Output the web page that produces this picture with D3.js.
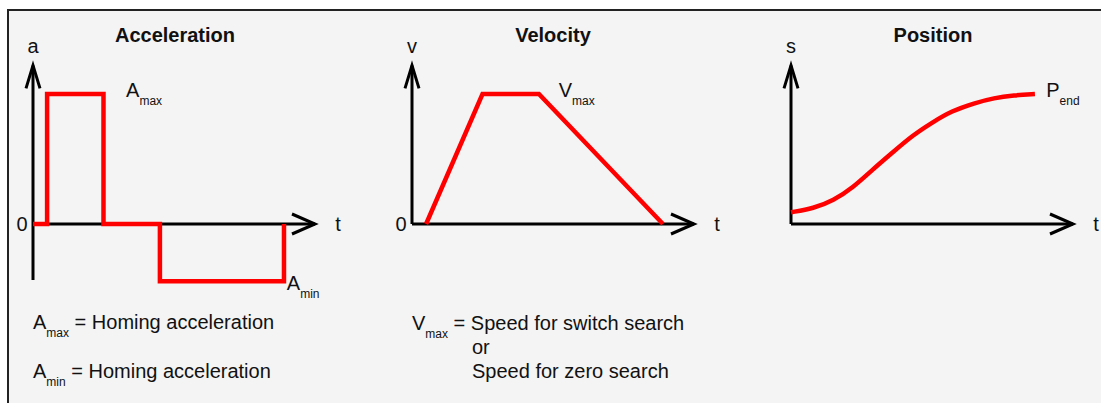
<!DOCTYPE html>
<html>
<head>
<meta charset="utf-8">
<script src="https://cdnjs.cloudflare.com/ajax/libs/d3/7.8.5/d3.min.js"></script>
<style>
  body { margin: 0; background: #fff; }
  svg text { font-family: "Liberation Sans", Arial, sans-serif; fill: #111; }
  .title { font-weight: bold; font-size: 20px; }
  .lbl { font-size: 20px; }
  .sub { font-size: 12px; }
</style>
</head>
<body>
<svg id="chart" width="1101" height="403"></svg>
<script>
// step changes of the acceleration profile (time units 0..10)
var accelT = [0, 0.5, 2.5, 4.5, 8.9];
var accelA = [0, 1, 0, -0.44, 0];

// velocity trapezoid
var velT = [0.5, 2.5, 4.5, 8.9];
var velV = [0, 1, 1, 0];

// position s-curve
var posT = [0, 0.8, 1.5, 2.2, 2.9, 3.6, 4.3, 5.0, 5.7, 6.5, 7.2, 7.9, 8.65];
var posS = [0.09, 0.12, 0.18, 0.28, 0.42, 0.55, 0.68, 0.78, 0.87, 0.93, 0.97, 0.99, 1.0];

var panels = [
  { title: "Acceleration", yName: "a", x0: 33, cx: 175, zero: true, yMin: -0.43 },
  { title: "Velocity", yName: "v", x0: 412, cx: 553, zero: true, yMin: 0 },
  { title: "Position", yName: "s", x0: 791, cx: 933, zero: false, yMin: 0 }
];

var svg = d3.select("#chart");

// frame
svg.append("rect").attr("x", 8).attr("y", 10).attr("width", 1093).attr("height", 393)
  .attr("fill", "#f4f4f4");
svg.append("path").attr("d", "M8,403V10H1101")
  .attr("fill", "none").attr("stroke", "#222").attr("stroke-width", 2);

var line = d3.line();

panels.forEach(function (p, i) {
  p.x = d3.scaleLinear().domain([0, 10]).range([p.x0, p.x0 + 282]);
  p.y = d3.scaleLinear().domain([0, 1]).range([224, 94]);
  var g = svg.append("g");
  var x = p.x, y = p.y;

  // axes
  g.append("path")
    .attr("d", line([[x(0), y(p.yMin)], [x(0), y(1.22)]]) + line([[x(0), y(0)], [x(10), y(0)]]))
    .attr("fill", "none").attr("stroke", "#000").attr("stroke-width", 3);
  // arrow heads
  g.append("path")
    .attr("d", line([[x(0) - 7, y(1.22) + 23], [x(0), y(1.22)], [x(0) + 7, y(1.22) + 23]]) +
      line([[x(10) - 23, y(0) - 10], [x(10), y(0)], [x(10) - 23, y(0) + 10]]))
    .attr("fill", "none").attr("stroke", "#000").attr("stroke-width", 3);

  g.append("text").attr("class", "title").attr("x", p.cx).attr("y", 42)
    .attr("text-anchor", "middle").text(p.title);
  g.append("text").attr("class", "lbl").attr("x", x(0)).attr("y", 53)
    .attr("text-anchor", "middle").text(p.yName);
  g.append("text").attr("class", "lbl").attr("x", x(10) + 23).attr("y", 231)
    .attr("text-anchor", "middle").text("t");
  if (p.zero) {
    g.append("text").attr("class", "lbl").attr("x", x(0) - 11).attr("y", 231)
      .attr("text-anchor", "middle").text("0");
  }
});

function subLabel(g, x, y, main, sub, rest) {
  var t = g.append("text").attr("class", "lbl").attr("x", x).attr("y", y);
  t.append("tspan").text(main);
  t.append("tspan").attr("class", "sub").attr("dy", 8).text(sub);
  if (rest) t.append("tspan").attr("dy", -8).text(" " + rest);
  return t;
}

var red = "#f00";

// acceleration
var pa = panels[0];
svg.append("path")
  .attr("d", d3.line().x(function (d) { return pa.x(d[0]); }).y(function (d) { return pa.y(d[1]); })
    .curve(d3.curveStepAfter)(accelT.map(function (t, i) { return [t, accelA[i]]; })))
  .attr("fill", "none").attr("stroke", red).attr("stroke-width", 4.5);
subLabel(svg, pa.x(3.3), 97, "A", "max");
subLabel(svg, pa.x(9.0), 290, "A", "min");

// velocity
var pv = panels[1];
svg.append("path")
  .attr("d", d3.line().x(function (d) { return pv.x(d[0]); }).y(function (d) { return pv.y(d[1]); })
    (velT.map(function (t, i) { return [t, velV[i]]; })))
  .attr("fill", "none").attr("stroke", red).attr("stroke-width", 4.5);
subLabel(svg, pv.x(5.2), 97, "V", "max");

// position
var pp = panels[2];
svg.append("path")
  .attr("d", d3.line().x(function (d) { return pp.x(d[0]); }).y(function (d) { return pp.y(d[1]); })
    .curve(d3.curveBasis)(posT.map(function (t, i) { return [t, posS[i]]; })))
  .attr("fill", "none").attr("stroke", red).attr("stroke-width", 4.5);
subLabel(svg, pp.x(9.05), 97, "P", "end");

// notes
subLabel(svg, 33, 329, "A", "max", "= Homing acceleration");
subLabel(svg, 33, 378, "A", "min", "= Homing acceleration");
subLabel(svg, 412, 330, "V", "max", "= Speed for switch search");
svg.append("text").attr("class", "lbl").attr("x", 472).attr("y", 354).text("or");
svg.append("text").attr("class", "lbl").attr("x", 472).attr("y", 378).text("Speed for zero search");
</script>
</body>
</html>
